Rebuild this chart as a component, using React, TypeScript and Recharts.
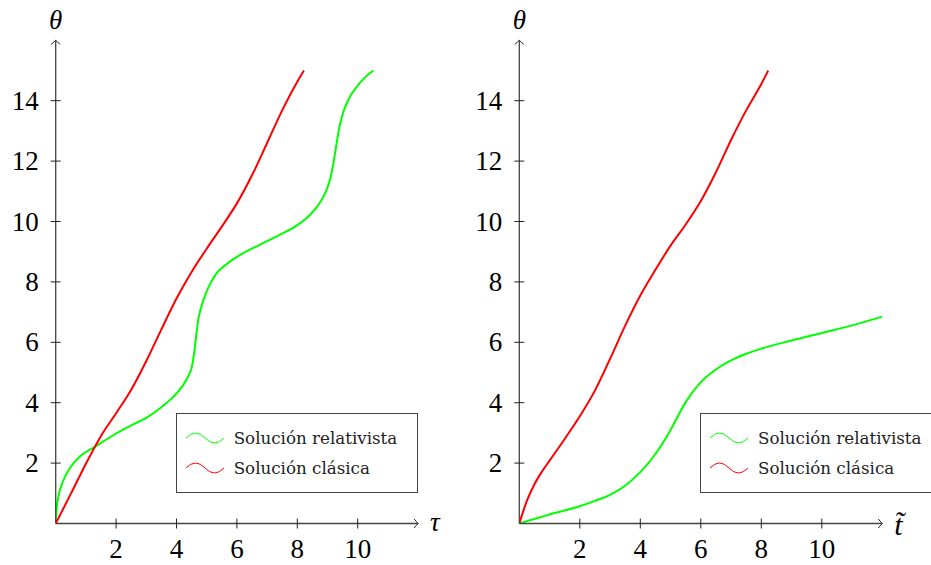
import React from 'react';
import { LineChart, Line, XAxis, YAxis, Legend, ReferenceDot } from 'recharts';

// left panel: theta against proper time tau
const leftRelTau = [0, 0.03, 0.1, 0.25, 0.5, 0.8, 1.3, 2.0, 2.5, 3.0, 3.5, 3.9, 4.2, 4.4, 4.5, 4.58, 4.65, 4.72, 4.8, 4.9, 5.05, 5.3, 5.7, 6.2, 6.8, 7.4, 8.0, 8.4, 8.7, 8.95, 9.1, 9.2, 9.28, 9.37, 9.5, 9.7, 10.0, 10.25, 10.52];
const leftRelTheta = [0, 0.5, 0.95, 1.42, 1.88, 2.22, 2.54, 2.98, 3.25, 3.5, 3.85, 4.2, 4.55, 4.9, 5.15, 5.6, 6.2, 6.75, 7.1, 7.42, 7.8, 8.25, 8.62, 8.95, 9.25, 9.55, 9.88, 10.2, 10.55, 11.0, 11.45, 11.95, 12.45, 13.0, 13.55, 14.05, 14.5, 14.78, 15.0];
const leftClsTau = [0, 0.5, 1.0, 1.5, 2.0, 2.5, 3.0, 3.5, 4.0, 4.5, 5.0, 5.5, 6.0, 6.5, 7.0, 7.5, 8.0, 8.22];
const leftClsTheta = [0, 0.98, 1.98, 2.9, 3.65, 4.43, 5.38, 6.43, 7.45, 8.33, 9.1, 9.83, 10.6, 11.53, 12.6, 13.68, 14.63, 15.0];

// right panel: theta against coordinate time t~
const rightRelT = [0, 1, 2, 2.5, 3, 3.5, 4, 4.5, 5, 5.5, 6, 6.5, 7, 7.5, 8, 9, 10, 11, 12];
const rightRelTheta = [0, 0.3, 0.57, 0.75, 0.95, 1.25, 1.7, 2.3, 3.1, 4.02, 4.68, 5.1, 5.4, 5.62, 5.79, 6.06, 6.31, 6.56, 6.85];
const rightClsT = [0, 0.25, 0.5, 0.75, 1.0, 1.5, 2.0, 2.5, 3.0, 3.5, 4.0, 4.5, 5.0, 5.5, 6.0, 6.5, 7.0, 7.5, 8.0, 8.23];
const rightClsTheta = [0, 0.75, 1.3, 1.72, 2.08, 2.8, 3.55, 4.4, 5.45, 6.55, 7.55, 8.4, 9.2, 9.9, 10.68, 11.63, 12.7, 13.68, 14.55, 15.0];

const xTicks = [2, 4, 6, 8, 10];
const yTicks = [2, 4, 6, 8, 10, 12, 14];
const seriesNames = ['Solución relativista', 'Solución clásica'];
const seriesColors = ['#00ff00', '#ff0000'];

const zip = (xs: number[], ys: number[]) => xs.map((x, i) => ({ x, y: ys[i] }));

const NUM_FONT = '"Liberation Serif", serif';
const AXIS_COLOR = '#444';

const XTick = (props: any) => {
  const { x, y, payload } = props;
  return (
    <g>
      <line x1={x} y1={y - 5} x2={x} y2={y + 5} stroke="#222" strokeWidth={1} />
      <text x={x} y={y + 34.5} textAnchor="middle" fontFamily={NUM_FONT} fontSize={27} fill="#000">
        {payload.value}
      </text>
    </g>
  );
};

const YTick = (props: any) => {
  const { x, y, payload } = props;
  return (
    <g>
      <line x1={x - 5} y1={y} x2={x + 5} y2={y} stroke="#222" strokeWidth={1} />
      <text x={x - 17} y={y + 9} textAnchor="end" fontFamily={NUM_FONT} fontSize={27} fill="#000">
        {payload.value}
      </text>
    </g>
  );
};

const LegendBox = (props: any) => {
  const items = [...(props.payload || [])].sort(
    (a: any, b: any) => seriesNames.indexOf(a.value) - seriesNames.indexOf(b.value)
  );
  return (
    <div
      style={{
        width: 242,
        height: 80,
        border: `1px solid ${AXIS_COLOR}`,
        boxSizing: 'border-box',
        background: '#fff',
        paddingTop: 9.6,
      }}
    >
      {items.map((item: any, i: number) => (
        <div key={i} style={{ display: 'flex', alignItems: 'center', height: 30 }}>
          <svg width={48} height={14} style={{ marginLeft: 9, flex: 'none' }}>
            <path d="M0 7 Q9.5 -3 19 7 T38 7" stroke={item.color} strokeWidth={1} fill="none" />
          </svg>
          <span style={{ fontFamily: '"DejaVu Serif", serif', fontSize: 16.7, color: '#222', whiteSpace: 'nowrap' }}>
            {item.value}
          </span>
        </div>
      ))}
    </div>
  );
};

type PanelProps = {
  rel: { x: number; y: number }[];
  cls: { x: number; y: number }[];
  width: number;
  yAxisWidth: number;
  rightMargin: number;
  legendLeft: number;
  xLabel: string;
  xLabelSize: number;
  xLabelDy: number;
};

const Panel = ({ rel, cls, width, yAxisWidth, rightMargin, legendLeft, xLabel, xLabelSize, xLabelDy }: PanelProps) => (
  <LineChart width={width} height={565} margin={{ top: 40.3, right: rightMargin, bottom: 1.5, left: 0 }}>
    <XAxis
      type="number"
      dataKey="x"
      domain={[0, 12]}
      ticks={xTicks}
      allowDataOverflow
      height={40}
      tickSize={0}
      tickMargin={0}
      tick={<XTick />}
      axisLine={{ stroke: AXIS_COLOR, strokeWidth: 1.3 }}
    />
    <YAxis
      type="number"
      domain={[0, 16]}
      ticks={yTicks}
      allowDataOverflow
      width={yAxisWidth}
      tickSize={0}
      tickMargin={0}
      tick={<YTick />}
      axisLine={{ stroke: AXIS_COLOR, strokeWidth: 1.3 }}
    />
    <Line
      data={rel}
      dataKey="y"
      name={seriesNames[0]}
      type="monotone"
      stroke={seriesColors[0]}
      strokeWidth={2}
      dot={false}
      isAnimationActive={false}
    />
    <Line
      data={cls}
      dataKey="y"
      name={seriesNames[1]}
      type="monotone"
      stroke={seriesColors[1]}
      strokeWidth={2}
      dot={false}
      isAnimationActive={false}
    />
    <ReferenceDot
      x={12}
      y={0}
      ifOverflow="visible"
      shape={(p: any) => (
        <g>
          <path
            d={`M${p.cx - 4} ${p.cy - 4.5} Q${p.cx - 1} ${p.cy - 1} ${p.cx} ${p.cy} Q${p.cx - 1} ${p.cy + 1} ${p.cx - 4} ${p.cy + 4.5}`}
            stroke="#222"
            strokeWidth={1}
            fill="none"
          />
          <text x={p.cx + 12} y={p.cy + xLabelDy} fontFamily={NUM_FONT} fontStyle="italic" fontSize={xLabelSize} fill="#000">
            {xLabel}
          </text>
        </g>
      )}
    />
    <ReferenceDot
      x={0}
      y={16}
      ifOverflow="visible"
      shape={(p: any) => (
        <g>
          <path
            d={`M${p.cx - 4.5} ${p.cy + 4} Q${p.cx - 1} ${p.cy + 1} ${p.cx} ${p.cy} Q${p.cx + 1} ${p.cy + 1} ${p.cx + 4.5} ${p.cy + 4}`}
            stroke="#222"
            strokeWidth={1}
            fill="none"
          />
          <text x={p.cx} y={p.cy - 11} textAnchor="middle" fontFamily={NUM_FONT} fontStyle="italic" fontSize={27} fill="#000">
            θ
          </text>
        </g>
      )}
    />
    <Legend
      layout="vertical"
      align="center"
      verticalAlign="middle"
      content={<LegendBox />}
      wrapperStyle={{ left: legendLeft, top: 412.7, width: 242 }}
    />
  </LineChart>
);

export default function App() {
  return (
    <div style={{ position: 'absolute', left: 0, top: 0, width: 931, height: 565, overflow: 'hidden', background: '#fff' }}>
      <div style={{ position: 'absolute', left: 0, top: 0 }}>
        <Panel
          rel={zip(leftRelTau, leftRelTheta)}
          cls={zip(leftClsTau, leftClsTheta)}
          width={465}
          yAxisWidth={55.7}
          rightMargin={46.9}
          legendLeft={175.7}
          xLabel="τ"
          xLabelSize={27}
          xLabelDy={7}
        />
      </div>
      <div style={{ position: 'absolute', left: 465, top: 0 }}>
        <Panel
          rel={zip(rightRelT, rightRelTheta)}
          cls={zip(rightClsT, rightClsTheta)}
          width={466}
          yAxisWidth={54.3}
          rightMargin={48.7}
          legendLeft={235}
          xLabel={'t\u0303'}
          xLabelSize={30}
          xLabelDy={11}
        />
      </div>
    </div>
  );
}
